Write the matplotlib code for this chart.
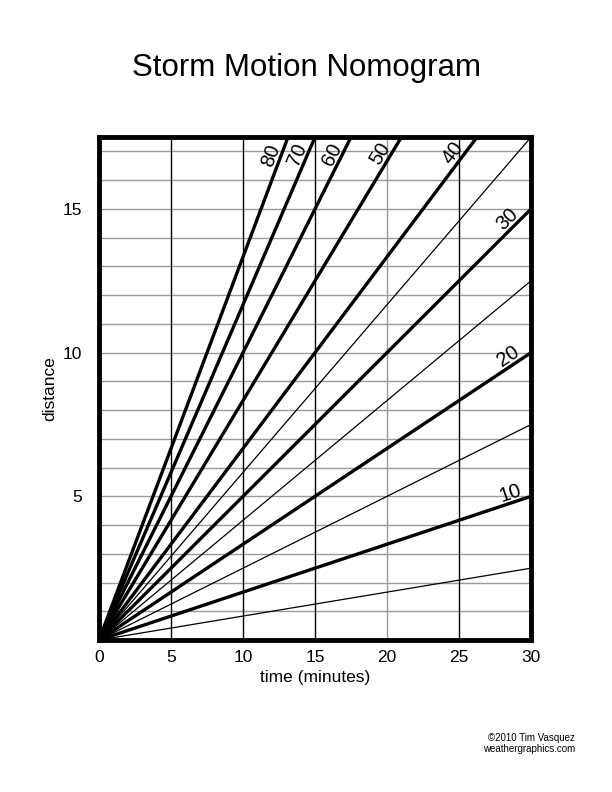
import numpy as np
import matplotlib.pyplot as plt

plt.rcParams['font.family'] = ['Liberation Sans', 'DejaVu Sans']

# speeds (distance per hour) drawn as rays from the origin
thick_speeds = [10, 20, 30, 40, 50, 60, 70, 80]
thin_speeds = [5, 15, 25, 35]
top_labels = [40, 50, 60, 70, 80]
side_labels = [10, 20, 30]
x_ticks = [0, 5, 10, 15, 20, 25, 30]
y_ticks = [5, 10, 15]

x_max, y_max = 30, 17.5

fig = plt.figure(figsize=(6.12, 7.92), dpi=100)
ax = fig.add_axes([0.1618, 0.1919, 0.7059, 0.635])
ax.set_xlim(0, x_max)
ax.set_ylim(0, y_max)

# grid
for y in np.arange(1, y_max, 1.0):
    ax.axhline(y, color='#999999', lw=1.0, zorder=1)
for x in [5, 10, 15, 20, 25]:
    c = '#999999' if x == 20 else 'black'
    ax.axvline(x, color=c, lw=1.0, zorder=1)

t = np.array([0, x_max])
for v in thin_speeds:
    ax.plot(t, t * v / 60.0, color='black', lw=0.9, zorder=2)
for v in thick_speeds:
    ax.plot(t, t * v / 60.0, color='black', lw=2.4, zorder=3)

# pixels per data unit, for label rotation
sx = 0.7059 * 612 / x_max
sy = 0.635 * 792 / y_max


def label(v, x, y):
    ang = np.degrees(np.arctan(v / 60.0 * sy / sx))
    ax.text(x, y, str(v), rotation=ang, rotation_mode='anchor',
            ha='center', va='bottom', fontsize=14.5, zorder=4)


for v in top_labels:
    yy = 16.75
    label(v, yy * 60.0 / v, yy)
for v in side_labels:
    xx = 28.8
    label(v, xx, xx * v / 60.0)

for s in ax.spines.values():
    s.set_linewidth(3.5)
ax.set_xticks(x_ticks)
ax.set_yticks(y_ticks)
ax.tick_params(length=0, labelsize=12.5)
ax.tick_params(axis='x', pad=7)
ax.tick_params(axis='y', pad=12)
ax.set_xlabel('time (minutes)', fontsize=12.5, labelpad=4)
ax.set_ylabel('distance', fontsize=12.5, labelpad=4)

fig.text(0.5, 0.914, 'Storm Motion Nomogram', ha='center', va='center', fontsize=22.5)
fig.text(0.94, 0.061, '\u00a92010 Tim Vasquez\nweathergraphics.com',
         ha='right', va='center', fontsize=7, linespacing=1.15)

fig.savefig('out.png', dpi=100)
